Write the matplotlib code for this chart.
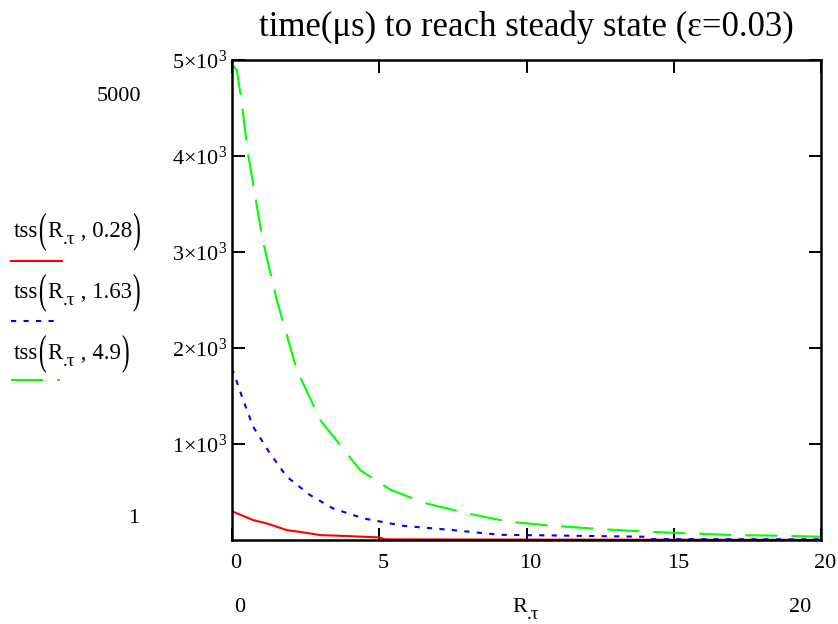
import numpy as np
import matplotlib
matplotlib.use("Agg")
import matplotlib.pyplot as plt
import matplotlib.transforms as mtransforms
from matplotlib.lines import Line2D
from matplotlib.textpath import TextPath
from matplotlib.patches import PathPatch
from matplotlib.font_manager import FontProperties

plt.rcParams['font.family'] = ['Liberation Serif', 'DejaVu Serif']
plt.rcParams['mathtext.fontset'] = 'custom'
plt.rcParams['mathtext.rm'] = 'Liberation Serif'
plt.rcParams['mathtext.it'] = 'Liberation Serif:italic'

# values (R.tau, tss in microseconds)
red_x = [0, 0.72, 1.18, 1.86, 2.3, 3.0, 3.67, 5.0, 5.2, 10, 15, 20]
red_y = [300, 208, 174, 104, 86, 52, 45, 28, 8, 5, 4, 3]

blue_x = [0, 0.38, 0.72, 1.29, 1.86, 2.65, 3.43, 4.46, 5.8, 7.5, 9.1, 10, 14, 14.2, 17, 20]
blue_y = [1790, 1458, 1180, 903, 660, 469, 330, 226, 149, 104, 55, 52, 35, 10, 9, 8]

green_x = [0, 0.16, 0.33, 0.52, 0.78, 1.04, 1.52, 2.2, 3.0, 4.35, 5.4, 6.6, 8.0,
           9.4, 10.9, 12.5, 14.1, 15.5, 17.1, 18.7, 20]
green_y = [4950, 4896, 4566, 4070, 3594, 3125, 2500, 1771, 1250, 729, 521, 382, 278,
           191, 149, 115, 87, 70, 52, 45, 35]

legend_params = ["0.28", "1.63", "4.9"]
xticks = [0, 5, 10, 15, 20]
yticks = [1000, 2000, 3000, 4000, 5000]
ytick_labels = [r"$1{\times}10^{3}$", r"$2{\times}10^{3}$", r"$3{\times}10^{3}$",
                r"$4{\times}10^{3}$", r"$5{\times}10^{3}$"]

W, H = 838, 624
FS = 16
fig = plt.figure(figsize=(W / 100, H / 100), dpi=100)
ax = fig.add_axes([232 / W, 1 - 540 / H, (821 - 232) / W, (540 - 60) / H])

lw = 1.5
red_style = '-'
blue_style = (0, (2.5, 3.5))
green_style = (0, (15.4, 6.7))
ax.plot(red_x, red_y, color='#ff0000', lw=lw, ls=red_style)
ax.plot(blue_x, blue_y, color='#0000ff', lw=lw, ls=blue_style)
ax.plot(green_x, green_y, color='#00ff00', lw=lw, ls=green_style)

ax.set_xlim(0, 20)
ax.set_ylim(1, 5000)
ax.set_xticks(xticks)
ax.set_yticks(yticks)
ax.set_yticklabels(ytick_labels)
for s in ax.spines.values():
    s.set_linewidth(1.8)
ax.tick_params(direction='in', length=9, width=1.4, top=True, right=True,
               labelsize=FS, colors='black')
ax.tick_params(axis='x', pad=10)
ax.tick_params(axis='y', pad=3.5)
offset = mtransforms.ScaledTranslation(4 / 100, 0, fig.dpi_scale_trans)
for lbl in ax.get_xticklabels():
    lbl.set_transform(lbl.get_transform() + offset)

ax.set_title("time(\u03bcs) to reach steady state (\u03b5=0.03)", fontsize=25, pad=17)

renderer = fig.canvas.get_renderer()
serif = FontProperties(family='Liberation Serif')


def tall_paren(ch, x, ybase):
    # thin, stretched parenthesis like Mathcad draws; pixel coords from top-left
    tp = TextPath((0, 0), ch, size=42, prop=serif)
    ext = tp.get_extents()
    tr = (mtransforms.Affine2D().translate(-ext.x0, 0).scale(0.55, 1.0)
          .translate(x, H - ybase))
    fig.add_artist(PathPatch(tp, transform=tr, color='black', lw=0))
    return ext.width * 0.55


def chain_text(x0, y0, pieces):
    # place text pieces left to right, pixel coords from top-left
    x = x0
    for s, size, dy in pieces:
        if s in "()":
            x += 1.5
            x += tall_paren(s, x, y0 + dy) + 1.5
            continue
        t = fig.text(x / W, 1 - (y0 + dy) / H, s, fontsize=size, ha='left', va='baseline')
        x += t.get_window_extent(renderer).width


# Mathcad-style limit labels
fig.text(141 / W, 1 - 101 / H, "5000", ha='right', va='baseline', fontsize=FS)
fig.text(139 / W, 1 - 523 / H, "1", ha='right', va='baseline', fontsize=FS)
fig.text(240 / W, 1 - 612 / H, "0", ha='center', va='baseline', fontsize=FS)
fig.text(800 / W, 1 - 612 / H, "20", ha='center', va='baseline', fontsize=FS)
chain_text(512, 612, [("R", FS, 0), (".\u03c4", 14, 7)])

# legend on the left
leg_base_y = [237, 298, 359]
leg_line_y = [261, 321, 380]
styles = [(red_style, '#ff0000'), (blue_style, '#0000ff'), (green_style, '#00ff00')]
for p, ty, ly, (st, c) in zip(legend_params, leg_base_y, leg_line_y, styles):
    chain_text(14, ty, [("tss", 16.5, 0), ("(", 0, 5), ("R", 16.5, 0), (".\u03c4", 14, 7),
                        (" , " + p, 16.5, 0), (")", 0, 5)])
    x1 = 62 if st == '-' else 60
    fig.add_artist(Line2D([11 / W, x1 / W], [1 - ly / H, 1 - ly / H], color=c, lw=lw,
                          ls=st, transform=fig.transFigure))

fig.savefig("out.png", dpi=100)
